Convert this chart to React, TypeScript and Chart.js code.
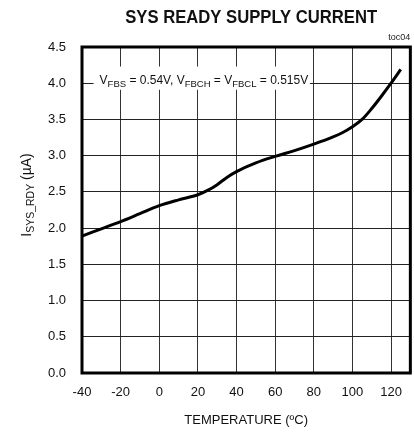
import React, { useEffect, useRef } from "react";
import { Chart, registerables } from "chart.js";

Chart.register(...registerables);

const temperatures = [-40, -30, -20, -10, 0, 10, 20, 25, 30, 35, 40, 50, 60, 70, 80, 90, 95, 100, 105, 110, 115, 120, 125];
const currents = [1.89, 1.99, 2.09, 2.2, 2.31, 2.39, 2.46, 2.52, 2.6, 2.7, 2.78, 2.9, 2.99, 3.07, 3.16, 3.26, 3.32, 3.4, 3.5, 3.65, 3.82, 4.0, 4.19];
const xTicks = [-40, -20, 0, 20, 40, 60, 80, 100, 120];
const yTicks = [0, 0.5, 1, 1.5, 2, 2.5, 3, 3.5, 4, 4.5];
const titleText = "SYS READY SUPPLY CURRENT";
const xTitle = "TEMPERATURE (\u00BAC)";
const yTitleMain = "I";
const yTitleSub = "SYS_RDY";
const yTitleRest = " (\u00B5A)";
const noteParts: [string, boolean][] = [
  ["V", false], ["FBS", true], [" = 0.54V, V", false], ["FBCH", true], [" = V", false], ["FBCL", true], [" = 0.515V", false],
];
const noteBox = { x0: -34, x1: 78, y0: 4.23, y1: 3.91 };
const tocLabel = "toc04";

const FONT = "Arial, 'Liberation Sans', sans-serif";

const decorPlugin = {
  id: "decor",
  beforeDatasetsDraw(chart: any) {
    const { ctx, scales } = chart;
    const xs = scales.x, ys = scales.y;
    const l = xs.getPixelForValue(noteBox.x0), r = xs.getPixelForValue(noteBox.x1);
    const t = ys.getPixelForValue(noteBox.y0), b = ys.getPixelForValue(noteBox.y1);
    ctx.save();
    ctx.fillStyle = "#fff";
    ctx.fillRect(l, t, r - l, b - t);
    ctx.fillStyle = "#111";
    ctx.textBaseline = "alphabetic";
    ctx.textAlign = "left";
    let x = l + 6;
    const base = (t + b) / 2 + 5.5;
    for (const [s, sub] of noteParts) {
      ctx.font = sub ? `9.5px ${FONT}` : `12px ${FONT}`;
      ctx.fillText(s, x, sub ? base + 3 : base);
      x += ctx.measureText(s).width;
    }
    ctx.restore();
  },
  afterDraw(chart: any) {
    const { ctx, chartArea } = chart;
    ctx.save();
    ctx.strokeStyle = "#000";
    ctx.lineWidth = 3;
    ctx.strokeRect(chartArea.left, chartArea.top, chartArea.right - chartArea.left, chartArea.bottom - chartArea.top);
    // title
    ctx.save();
    ctx.fillStyle = "#111";
    ctx.font = `bold 18.5px ${FONT}`;
    ctx.textAlign = "center";
    ctx.textBaseline = "alphabetic";
    ctx.translate((chartArea.left + chartArea.right) / 2 + 5, 22.7);
    ctx.scale(0.9, 1);
    ctx.fillText(titleText, 0, 0);
    ctx.restore();
    // toc label
    ctx.fillStyle = "#222";
    ctx.font = `9px ${FONT}`;
    ctx.textAlign = "right";
    ctx.textBaseline = "alphabetic";
    ctx.fillText(tocLabel, chartArea.right, chartArea.top - 7);
    // y title
    ctx.translate(26, (chartArea.top + chartArea.bottom) / 2 - 15);
    ctx.rotate(-Math.PI / 2);
    ctx.textAlign = "left";
    ctx.fillStyle = "#111";
    const parts: [string, boolean][] = [[yTitleMain, false], [yTitleSub, true], [yTitleRest, false]];
    let w = 0;
    for (const [s, sub] of parts) {
      ctx.font = sub ? `10.5px ${FONT}` : `14px ${FONT}`;
      w += ctx.measureText(s).width;
    }
    let x = -w / 2;
    for (const [s, sub] of parts) {
      ctx.font = sub ? `10.5px ${FONT}` : `14px ${FONT}`;
      ctx.fillText(s, x, sub ? 8 : 5);
      x += ctx.measureText(s).width;
    }
    ctx.restore();
  },
};

export default function App() {
  const ref = useRef<HTMLCanvasElement>(null);
  useEffect(() => {
    if (!ref.current) return;
    const chart = new Chart(ref.current, {
      type: "line",
      data: {
        datasets: [
          {
            data: temperatures.map((t, i) => ({ x: t, y: currents[i] })),
            borderColor: "#000",
            borderWidth: 3,
            pointRadius: 0,
            cubicInterpolationMode: "monotone",
            fill: false,
          },
        ],
      },
      options: {
        animation: false,
        responsive: false,
        devicePixelRatio: 1,
        layout: { padding: { left: 0, right: 2, top: 47, bottom: 0 } },
        plugins: {
          legend: { display: false },
          tooltip: { enabled: false },
          title: { display: false },
        },
        scales: {
          x: {
            type: "linear",
            min: -40,
            max: 130,
            afterBuildTicks: (s: any) => {
              s.ticks = xTicks.map((v) => ({ value: v }));
            },
            afterFit: (s: any) => {
              s.height = 59;
            },
            grid: { color: "#333", lineWidth: 1, drawTicks: false },
            border: { display: false },
            ticks: { color: "#111", font: { family: FONT, size: 13 }, padding: 12, maxRotation: 0 },
            title: {
              display: true,
              text: xTitle,
              color: "#111",
              font: { family: FONT, size: 13 },
              padding: { top: 0, bottom: 4 },
            },
          },
          y: {
            type: "linear",
            min: 0,
            max: 4.5,
            afterBuildTicks: (s: any) => {
              s.ticks = yTicks.map((v) => ({ value: v }));
            },
            afterFit: (s: any) => {
              s.width = 82;
            },
            grid: { color: "#222", lineWidth: 1, drawTicks: false },
            border: { display: false },
            ticks: {
              color: "#111",
              font: { family: FONT, size: 13 },
              padding: 16,
              callback: (v: any) => Number(v).toFixed(1),
            },
          },
        },
      },
      plugins: [decorPlugin],
    } as any);
    return () => chart.destroy();
  }, []);
  return (
    <div style={{ position: "fixed", left: 0, top: 0, width: 414, height: 432, background: "#fff" }}>
      <canvas ref={ref} width={414} height={432} style={{ width: 414, height: 432 }} />
    </div>
  );
}
